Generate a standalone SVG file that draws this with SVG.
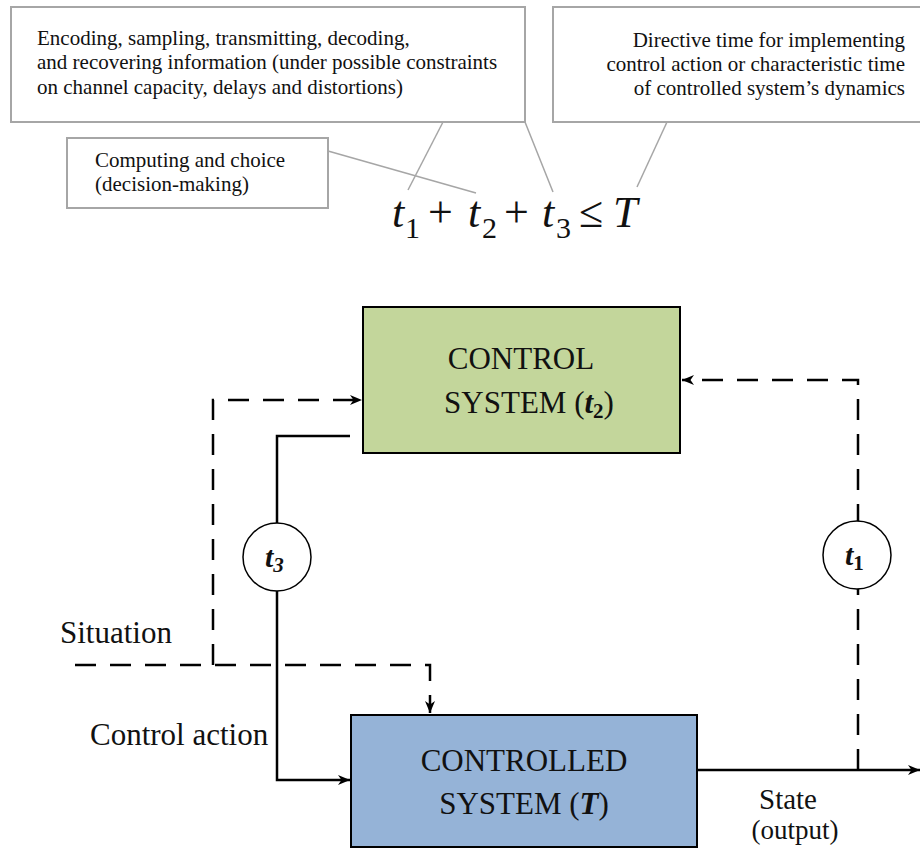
<svg xmlns="http://www.w3.org/2000/svg" width="920" height="850" viewBox="0 0 920 850">
<style>
.note{fill:#fff;stroke:#a6a6a6;stroke-width:2}
.lead{stroke:#a6a6a6;stroke-width:1.5;fill:none}
.nt{font-family:"Liberation Serif",serif;font-size:21px;fill:#111}
.big{font-family:"Liberation Serif",serif;font-size:31px;fill:#111}
.solid{stroke:#000;stroke-width:2.5;fill:none}
.dash{stroke:#000;stroke-width:2.5;fill:none;stroke-dasharray:21 14}
.box{stroke:#000;stroke-width:2}
.circ{fill:#fff;stroke:#000;stroke-width:1.5}
.f{font-family:"Liberation Serif",serif;fill:#111}
</style>
<defs>
<marker id="ah" viewBox="0 0 12 10" refX="12" refY="5" markerWidth="12" markerHeight="10" markerUnits="userSpaceOnUse" orient="auto">
<path d="M0,0 L12,5 L0,10 L3.5,5 z" fill="#000"/>
</marker>
</defs>

<g id="note-encoding">
<rect class="note" x="11" y="7" width="514" height="115"/>
<text class="nt" x="37" y="45">Encoding, sampling, transmitting, decoding,</text>
<text class="nt" x="37" y="69">and recovering information (under possible constraints</text>
<text class="nt" x="37" y="94">on channel capacity, delays and distortions)</text>
</g>
<g id="note-directive">
<rect class="note" x="553" y="7" width="370" height="115"/>
<text class="nt" x="905" y="47" text-anchor="end">Directive time for implementing</text>
<text class="nt" x="905" y="71" text-anchor="end">control action or characteristic time</text>
<text class="nt" x="905" y="95" text-anchor="end">of controlled system’s dynamics</text>
</g>
<g id="note-computing">
<rect class="note" x="67" y="138" width="261" height="70"/>
<text class="nt" x="95" y="167">Computing and choice</text>
<text class="nt" x="95" y="191">(decision-making)</text>
</g>
<g id="leaders">
<line class="lead" x1="328" y1="151" x2="476" y2="193"/>
<line class="lead" x1="443" y1="122" x2="408" y2="190"/>
<line class="lead" x1="525" y1="122" x2="553" y2="192"/>
<line class="lead" x1="667" y1="122" x2="637" y2="187"/>
</g>
<g id="formula">
<text class="f" font-size="44" font-style="italic" x="392" y="227">t</text>
<text class="f" font-size="30" x="405" y="238">1</text>
<text class="f" font-size="44" x="428" y="227">+</text>
<text class="f" font-size="44" font-style="italic" x="468" y="227">t</text>
<text class="f" font-size="30" x="482" y="238">2</text>
<text class="f" font-size="44" x="504" y="227">+</text>
<text class="f" font-size="44" font-style="italic" x="542" y="227">t</text>
<text class="f" font-size="30" x="556" y="238">3</text>
<text class="f" font-size="44" x="579" y="227">≤</text>
<text class="f" font-size="44" font-style="italic" x="613" y="227">T</text>
</g>

<g id="connectors">
<path class="dash" d="M213,665 V400 H362" marker-end="url(#ah)"/>
<path class="dash" d="M75,665 H430 V713" marker-end="url(#ah)"/>
<path class="dash" d="M858,770 V380 H682" marker-end="url(#ah)"/>
<path class="solid" d="M350,436 H277 V780 H350" marker-end="url(#ah)"/>
<path class="solid" d="M697,770 H920" marker-end="url(#ah)"/>
</g>

<g id="control-system">
<rect class="box" x="363" y="307" width="317" height="146" fill="#c3d69b"/>
<text class="big" x="521" y="369" text-anchor="middle">CONTROL</text>
<text class="big" font-size="30" x="529" y="413" text-anchor="middle">SYSTEM (<tspan font-weight="bold" font-style="italic">t</tspan><tspan font-weight="bold" font-size="21" dy="5">2</tspan><tspan dy="-5">)</tspan></text>
</g>
<g id="controlled-system">
<rect class="box" x="351" y="715" width="346" height="132" fill="#95b3d7"/>
<text class="big" x="524" y="771" text-anchor="middle">CONTROLLED</text>
<text class="big" x="524" y="814" text-anchor="middle">SYSTEM (<tspan font-weight="bold" font-style="italic">T</tspan>)</text>
</g>
<g id="t3">
<circle class="circ" cx="277" cy="557" r="34"/>
<text class="f" font-size="30" font-weight="bold" font-style="italic" x="265" y="567">t<tspan font-size="21" dy="5">3</tspan></text>
</g>
<g id="t1">
<circle class="circ" cx="857" cy="555" r="34"/>
<text class="f" font-size="30" font-weight="bold" font-style="italic" x="845" y="565">t<tspan font-style="normal" font-size="21" dy="5">1</tspan></text>
</g>
<g id="labels">
<text class="big" x="60" y="643">Situation</text>
<text class="big" x="90" y="745">Control action</text>
<text class="big" text-anchor="middle"><tspan font-size="29" x="788" y="809">State</tspan><tspan font-size="27" x="795" y="839">(output)</tspan></text>
</g>
</svg>
